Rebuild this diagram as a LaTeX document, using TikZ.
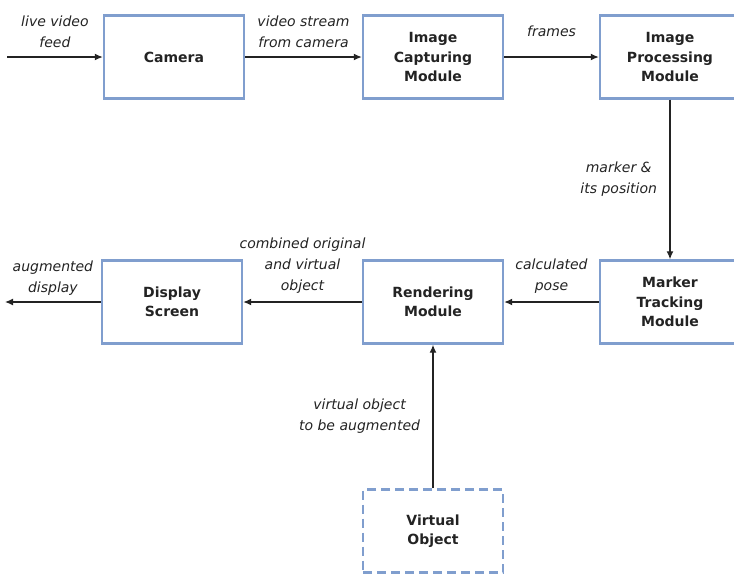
\documentclass[tikz,border=0pt]{standalone}
\usepackage{fontspec}
\setmainfont{DejaVu Sans}
\usetikzlibrary{arrows.meta}
\definecolor{boxblue}{RGB}{128,158,206}
\definecolor{inkgray}{RGB}{35,35,35}
\begin{document}
\begin{tikzpicture}[x=1pt,y=-1pt,>={Latex[length=8pt,width=7pt]},
  module/.style={draw=boxblue,line width=2.4pt,minimum width=140pt,minimum height=83pt,
    align=center,font=\fontsize{14}{19.5}\selectfont\bfseries,text=inkgray},
  flow/.style={->,line width=1.3pt,draw=inkgray},
  lbl/.style={font=\fontsize{14}{21}\selectfont\itshape,align=center,text=inkgray}]
\useasboundingbox (0,0) rectangle (734,574);

\node[module] (cam) at (174,57) {Camera};
\node[module] (cap) at (433,57) {Image\\Capturing\\Module};
\node[module] (proc) at (670,57) {Image\\Processing\\Module};
\node[module] (track) at (670,302) {Marker\\Tracking\\Module};
\node[module] (rend) at (433,302) {Rendering\\Module};
\node[module] (disp) at (172,302) {Display\\Screen};
\node[module,dash pattern=on 9pt off 5pt] (virt) at (433,531) {Virtual\\Object};

\coordinate (feed) at (7,57);
\coordinate (shown) at (5,302);

\draw[flow] (feed) -- node[lbl,above=5pt]{live video\\feed} (cam);
\draw[flow] (cam) -- node[lbl,above=5pt]{video stream\\from camera} (cap);
\draw[flow] (cap) -- node[lbl,above=16pt]{frames} (proc);
\draw[flow] (proc) -- node[lbl,left=9pt]{marker \&\\its position} (track);
\draw[flow] (track) -- node[lbl,above=5pt]{calculated\\pose} (rend);
\draw[flow] (rend) -- node[lbl,above=5pt]{combined original\\and virtual\\object} (disp);
\draw[flow] (disp) -- node[lbl,above=3pt]{augmented\\display} (shown);
\draw[flow] (virt) -- node[lbl,left=9pt]{virtual object\\to be augmented} (rend);
\end{tikzpicture}
\end{document}
